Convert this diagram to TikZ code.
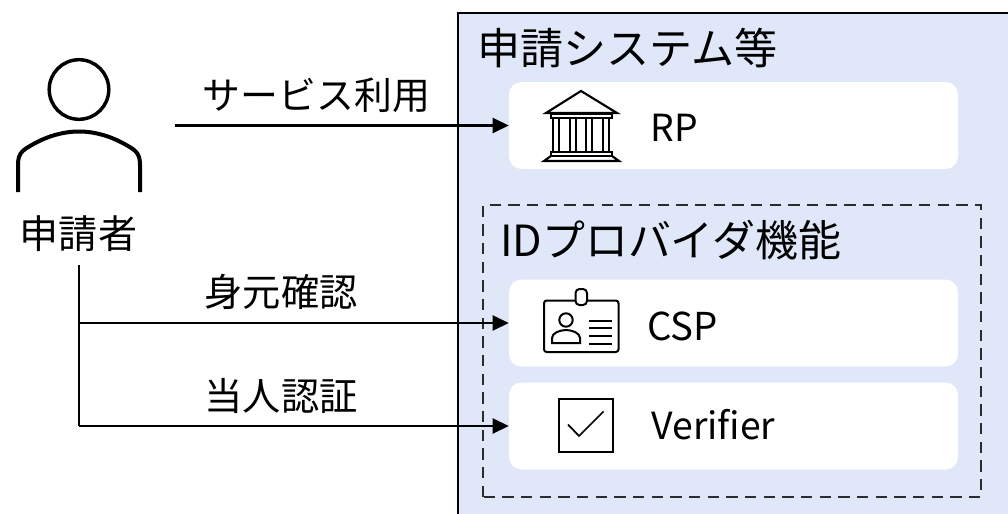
\documentclass[tikz,border=0pt]{standalone}
\usepackage{fontspec}
\setmainfont{Noto Sans CJK JP}
\usetikzlibrary{arrows.meta}
\definecolor{panelblue}{HTML}{DFE7F9}
\definecolor{dashgrey}{HTML}{2B2B2B}
\tikzset{
  x=0.75pt,y=-0.75pt,
  card/.style={fill=white,draw=none,rounded corners=12.5*0.75pt},
  conn/.style={line width=1.9pt,-{Triangle[length=12pt,width=11.2pt]}},
  txt/.style={inner sep=0pt,text=black,anchor=center},
}
\begin{document}
\begin{tikzpicture}
\useasboundingbox (0,0) rectangle (1008,514);
% panels
\path[fill=panelblue,draw=black,line width=2pt] (458,516) -- (458,13) -- (1010,13) -- (1010,516);
\node[card,minimum width=449*0.75pt,minimum height=87*0.75pt] (rp) at (733.5,125.5) {};
\draw[dashgrey,line width=2.2pt,dash pattern=on 8.4pt off 5.6pt] (483,497) -- (483,205) -- (981,205) -- (981,497) -- cycle;
\node[card,minimum width=449*0.75pt,minimum height=87*0.75pt] (csp) at (733.5,323) {};
\node[card,minimum width=449*0.75pt,minimum height=87*0.75pt] (ver) at (733.5,426) {};
% titles
\node[txt,font=\fontsize{32.3pt}{38pt}\selectfont] (sys) at (627.5,48) {申請システム等};
\node[txt,font=\fontsize{32.2pt}{38pt}\selectfont] (idp) at (670.5,240) {IDプロバイダ機能};
\node[txt,font=\fontsize{28pt}{33pt}\selectfont] (rpt) at (674,128) {RP};
\node[txt,font=\fontsize{28.8pt}{33pt}\selectfont] (cspt) at (682.5,326) {CSP};
\node[txt,font=\fontsize{28pt}{33pt}\selectfont] (vert) at (713.5,425) {Verifier};
% person
\draw[line width=2.6pt] (79,89.5) circle (29.8);
\draw[line width=3pt] (18,192) -- (18,165) .. controls (18,155) and (21,151) .. (30,146) .. controls (45,137) and (62,131.5) .. (79,131.5) .. controls (96,131.5) and (113,137) .. (128,146) .. controls (137,151) and (140,155) .. (140,165) -- (140,192);
\node[txt,font=\fontsize{29.3pt}{34pt}\selectfont] (user) at (78.5,234) {申請者};
% connector labels
\node[txt,font=\fontsize{28.4pt}{33pt}\selectfont] (l1) at (316.5,95) {サービス利用};
\node[txt,font=\fontsize{28.7pt}{33pt}\selectfont] (l2) at (281,292) {身元確認};
\node[txt,font=\fontsize{28.7pt}{33pt}\selectfont] (l3) at (281,396) {当人認証};
% connectors
\coordinate (s1) at (175,125.5);
\coordinate (s2) at (79,265);
\coordinate (j2) at (79,323);
\coordinate (j3) at (79,426);
\draw[conn] (s1) -- (rp.west);
\draw[conn] (j2) -- (csp.west);
\draw[line width=1.9pt] (s2) -- (j3);
\draw[conn] (j3) -- (ver.west);
% bank icon
\begin{scope}[line width=1.6pt,line join=miter]
\draw (546,113) -- (581,91) -- (617,113) -- cycle;
\draw (551,113.5) rectangle (612,118);
\draw (553,118) -- (553,152) (559,118) -- (559,152);
\draw (570,118) -- (570,152) (576,118) -- (576,152);
\draw (586,118) -- (586,152) (592,118) -- (592,152);
\draw (603,118) -- (603,152) (609,118) -- (609,152);
\draw (551,152) rectangle (612,156);
\draw (551,156) -- (544,161) -- (619,161) -- (612,156);
\end{scope}
% id card icon
\begin{scope}[line width=1.5pt]
\draw[rounded corners=2pt] (544,300.5) rectangle (618.5,352);
\draw[fill=white,rounded corners=3pt] (575.5,289) rectangle (587,305);
\draw (566,320) circle (6.7);
\draw (552,343) -- (580,343) -- (580,338) .. controls (580,333) and (572,330) .. (566,330) .. controls (560,330) and (552,333) .. (552,338) -- cycle;
\draw (589,320.5) -- (612,320.5) (589,328) -- (612,328) (589,336) -- (612,336) (589,344) -- (612,344);
\end{scope}
% check icon
\draw[line width=1.5pt] (559,398.5) rectangle (612.5,451.5);
\draw[line width=1.3pt] (568,424.5) -- (579,436) -- (603.5,411.5);
\end{tikzpicture}
\end{document}
